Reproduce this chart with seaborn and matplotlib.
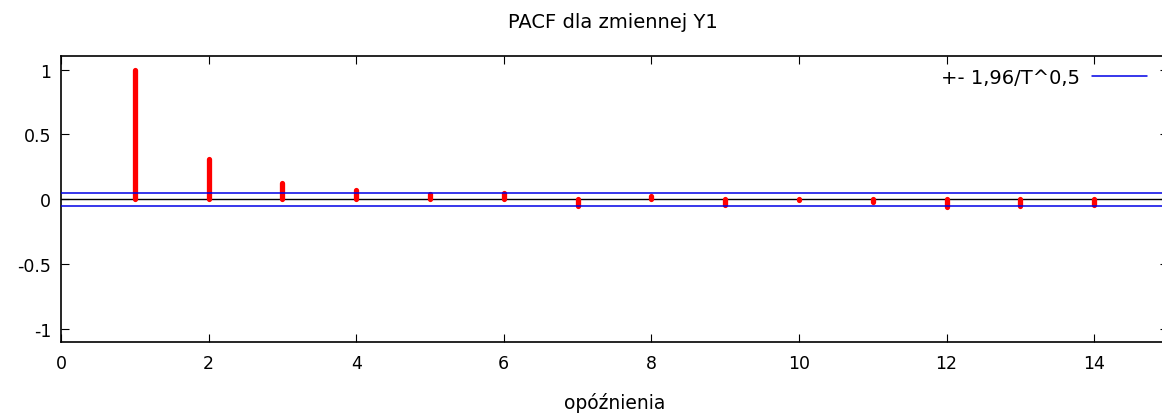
import numpy as np
import pandas as pd
import matplotlib
matplotlib.use("Agg")
import matplotlib.pyplot as plt
import seaborn as sns

# Data
lags = [1, 2, 3, 4, 5, 6, 7, 8, 9, 10, 11, 12, 13, 14]
pacf = [0.995, 0.31, 0.125, 0.075, 0.042, 0.045, -0.049, 0.027, -0.042, -0.005, -0.019, -0.057, -0.052, -0.044]
band = 0.052
title = "PACF dla zmiennej Y1"
xlabel = "opóźnienia"
legend_label = "+- 1,96/T^0,5"
xticks = [0, 2, 4, 6, 8, 10, 12, 14]
yticks = [-1, -0.5, 0, 0.5, 1]
ytick_labels = ["-1", "-0.5", "0", "0.5", "1"]

sns.set_theme(style="ticks")
plt.rcParams['font.family'] = ['DejaVu Sans']
plt.rcParams['text.color'] = 'black'

df = pd.DataFrame({"lag": lags, "pacf": pacf})

W, H = 1162, 414
fig = plt.figure(figsize=(W / 100, H / 100), dpi=100)
left, right, top, bottom = 61, 61 + 15 * 73.8, 57, 343
ax = fig.add_axes([left / W, (H - bottom) / H, (right - left) / W, (bottom - top) / H])

ax.axhline(0, color="black", lw=1.0, zorder=1)
ax.vlines(df["lag"], 0, df["pacf"], colors="#ff0000", lw=3.8, zorder=2, capstyle="round")
for c in ax.collections:
    c.set_capstyle("round")

bands = pd.DataFrame({"x": [0, 15, 0, 15], "y": [band, band, -band, -band], "g": ["u", "u", "l", "l"]})
sns.lineplot(data=bands, x="x", y="y", units="g", estimator=None, color="#0000e6", lw=1.1, ax=ax, zorder=3, legend=False)
ax.plot([], [], color="#0000e6", lw=1.1, label=legend_label)

ax.set_xlim(0, 15)
ax.set_ylim(-1.1, 1.105)
ax.set_xticks(xticks)
ax.set_yticks(yticks)
ax.set_yticklabels(ytick_labels)
ax.tick_params(direction="in", length=6, width=0.8, top=True, right=True, labelsize=12.5,
               colors="black", labelcolor="black", pad=9)
ax.tick_params(axis="y", pad=7)
for s in ax.spines.values():
    s.set_linewidth(1.2)
    s.set_color("black")
ax.set_ylabel("")
ax.set_xlabel(xlabel, fontsize=13.5, labelpad=14, color="black")
fig.text(613 / W, 1 - 23 / H, title, ha="center", va="center", fontsize=14, color="black")

leg = ax.legend(loc="upper right", frameon=False, fontsize=14, handlelength=2.8, handletextpad=0.65,
                markerfirst=False,
                bbox_to_anchor=((1152.5 - left) / (right - left), 1.0 - 6 / (bottom - top)),
                bbox_transform=ax.transAxes, borderaxespad=0.1, borderpad=0.2)
for t in leg.get_texts():
    t.set_color("black")

fig.savefig("out.png", dpi=100)
